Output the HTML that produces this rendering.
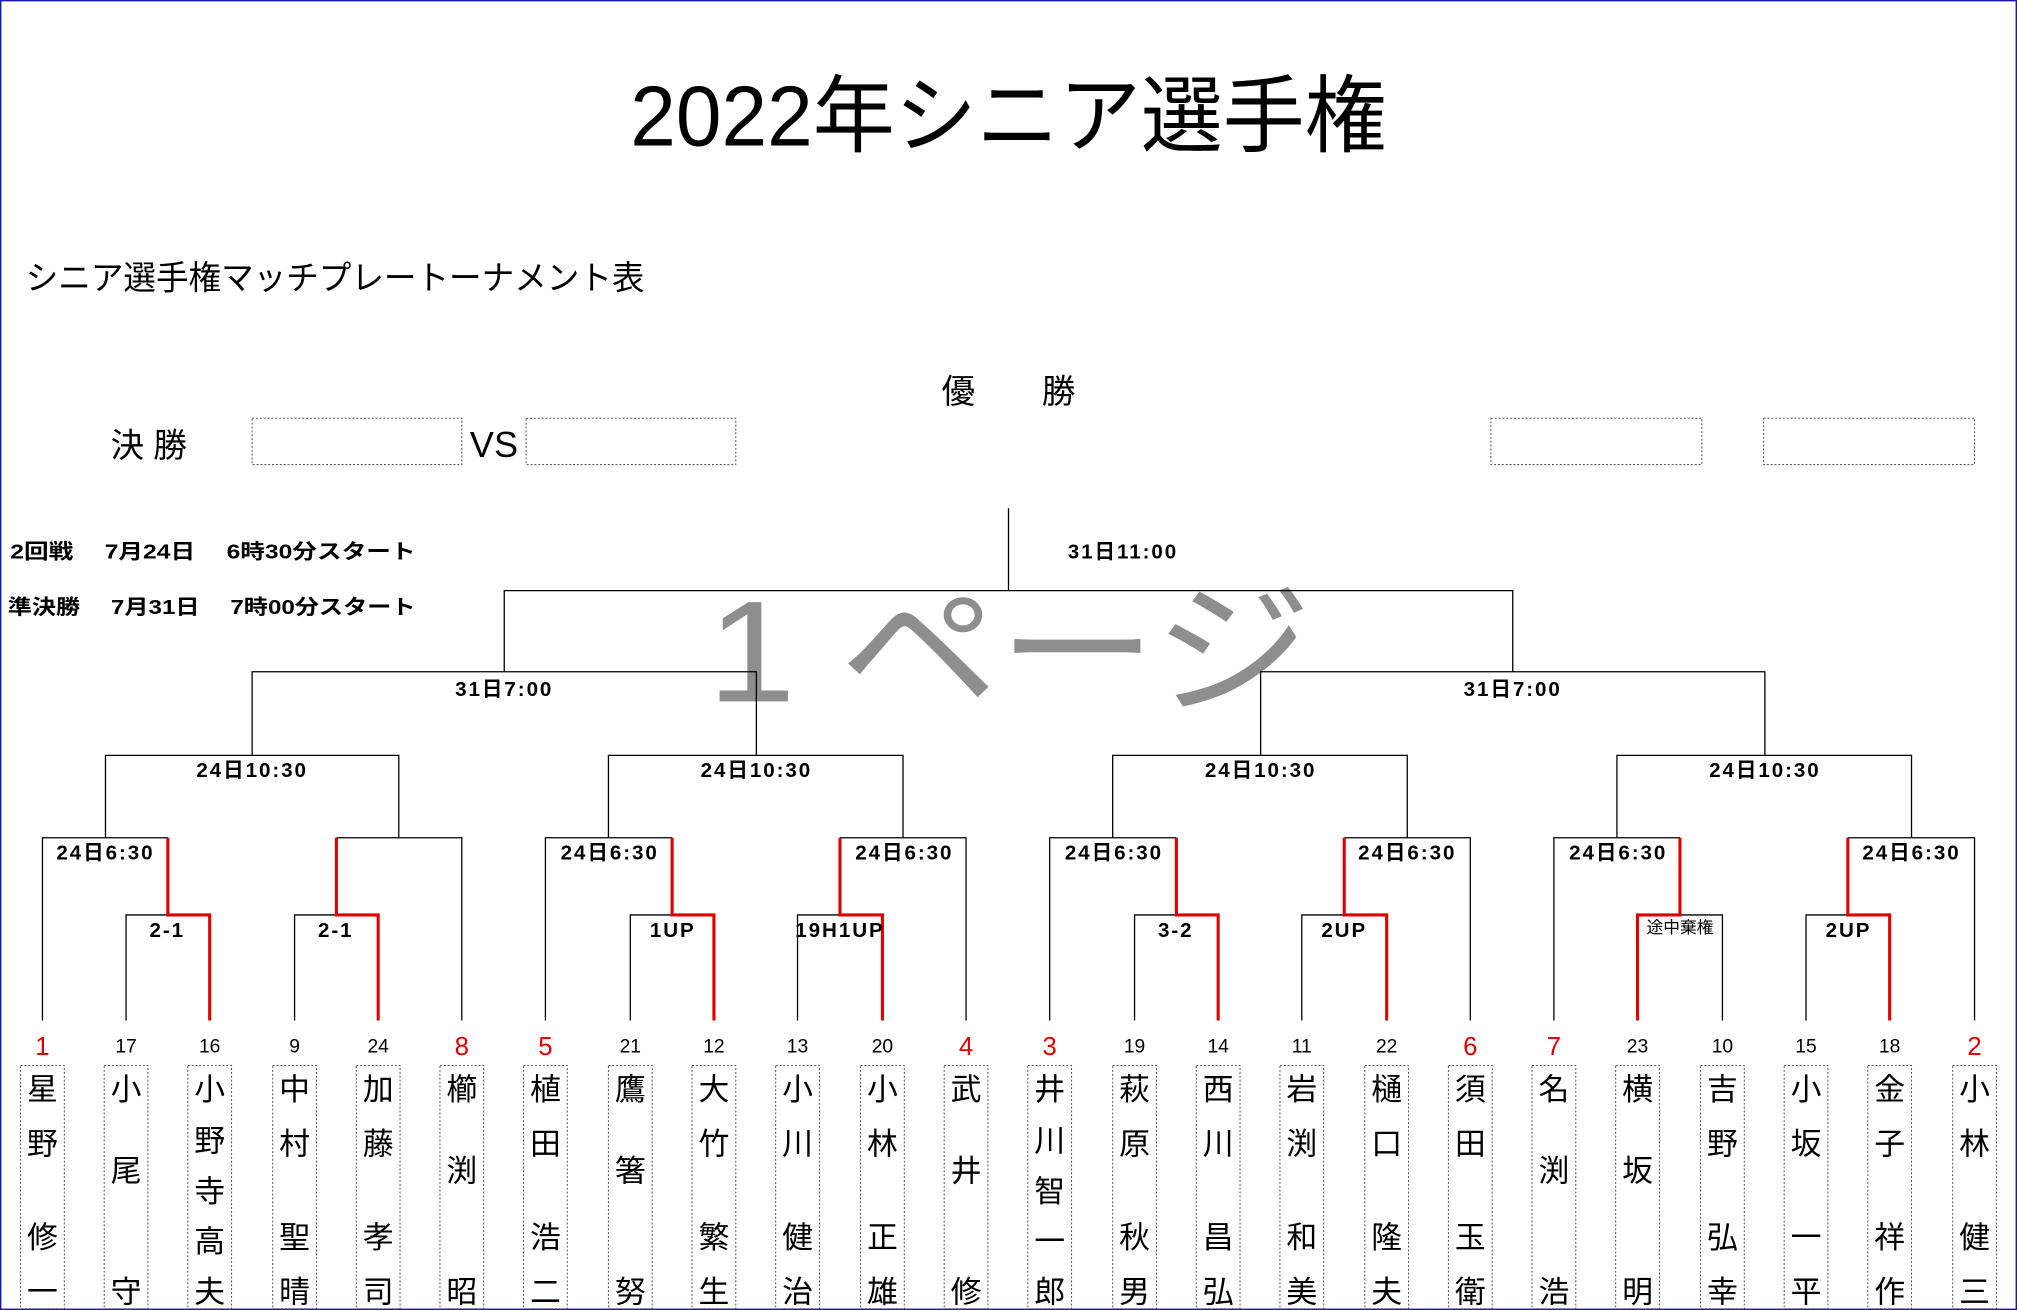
<!DOCTYPE html>
<html><head><meta charset="utf-8"><style>
html,body{margin:0;padding:0;background:#fff;}
svg{display:block;}
text{font-family:"Liberation Sans","Noto Sans CJK JP",sans-serif;}
.b{font-weight:bold;font-size:16px;text-anchor:middle;letter-spacing:1.5px;}
.n{font-size:15px;text-anchor:middle;}
.r{font-size:20px;text-anchor:middle;fill:#e00000;}
.c{font-size:24px;text-anchor:middle;}
.box{fill:none;stroke:#555;stroke-width:0.8;stroke-dasharray:1.5 1.5;}
</style></head><body>
<svg width="2017" height="1310" viewBox="0 0 1568 1018" preserveAspectRatio="none" xmlns="http://www.w3.org/2000/svg">
<rect x="0.5" y="0.5" width="1567" height="1017" fill="#fff" stroke="#1a1aa0" stroke-width="1.2"/>
<text x="490" y="113" font-size="66" textLength="588" lengthAdjust="spacingAndGlyphs">2022年シニア選手権</text>
<text x="20" y="225" font-size="26" textLength="481" lengthAdjust="spacingAndGlyphs">シニア選手権マッチプレートーナメント表</text>
<text x="784" y="313" font-size="26" text-anchor="middle">優　　勝</text>
<text x="86" y="355" font-size="26">決 勝</text>
<rect class="box" x="196" y="325" width="163" height="36"/>
<rect class="box" x="409" y="325" width="163" height="36"/>
<text x="384" y="355" font-size="28" text-anchor="middle">VS</text>
<rect class="box" x="1159" y="325" width="164" height="36"/>
<rect class="box" x="1371" y="325" width="164" height="36"/>
<text x="8" y="434" font-size="16" font-weight="bold" textLength="315" lengthAdjust="spacingAndGlyphs">2回戦　 7月24日　 6時30分スタート</text>
<text x="6" y="477" font-size="16" font-weight="bold" textLength="317" lengthAdjust="spacingAndGlyphs">準決勝　 7月31日　 7時00分スタート</text>
<text x="550" y="545" font-size="112" fill="#8e8e8e" textLength="470" lengthAdjust="spacingAndGlyphs">1 ページ</text>
<g fill="none" stroke="#000" stroke-width="1">
<path d="M33 793V651H130.5M98 793V711H130.5"/>
<path d="M229 793V711H261.5M261.5 651H359V793"/>
<path d="M424 793V651H522.5M490 793V711H522.5"/>
<path d="M620 793V711H653M653 651H751V793"/>
<path d="M816 793V651H914.5M882 793V711H914.5"/>
<path d="M1012 793V711H1045M1045 651H1143V793"/>
<path d="M1208 793V651H1306M1306 711H1339V793"/>
<path d="M1404 793V711H1436.5M1436.5 651H1535V793"/>
<path d="M82 651V587H310V651M473 651V587H702V651M865 651V587H1094V651M1257 651V587H1486V651"/>
<path d="M196 587V522H588V587M980 587V522H1372V587"/>
<path d="M392 522V459H1176V522M784 459V395"/>
</g>
<g fill="none" stroke="#e00000" stroke-width="2.4">
<path d="M130.5 651V711H163V793"/>
<path d="M261.5 651V711H294V793"/>
<path d="M522.5 651V711H555V793"/>
<path d="M653 651V711H686V793"/>
<path d="M914.5 651V711H947V793"/>
<path d="M1045 651V711H1078V793"/>
<path d="M1306 651V711H1273V793"/>
<path d="M1436.5 651V711H1469V793"/>
</g>
<text class="b" x="873" y="434">31日11:00</text>
<text class="b" x="392" y="541">31日7:00</text>
<text class="b" x="1176" y="541">31日7:00</text>
<text class="b" x="196" y="604">24日10:30</text>
<text class="b" x="588" y="604">24日10:30</text>
<text class="b" x="980" y="604">24日10:30</text>
<text class="b" x="1372" y="604">24日10:30</text>
<text class="b" x="82" y="668">24日6:30</text>
<text class="b" x="474" y="668">24日6:30</text>
<text class="b" x="703" y="668">24日6:30</text>
<text class="b" x="866" y="668">24日6:30</text>
<text class="b" x="1094" y="668">24日6:30</text>
<text class="b" x="1258" y="668">24日6:30</text>
<text class="b" x="1486" y="668">24日6:30</text>
<text class="b" x="130" y="728">2-1</text>
<text class="b" x="261" y="728">2-1</text>
<text class="b" x="523" y="728">1UP</text>
<text class="b" x="653" y="728">19H1UP</text>
<text class="b" x="914" y="728">3-2</text>
<text class="b" x="1045" y="728">2UP</text>
<text x="1306" y="725" font-size="13" text-anchor="middle">途中棄権</text>
<text class="b" x="1437" y="728">2UP</text>
<g>
<text class="r" x="33" y="820">1</text><text class="n" x="98" y="818">17</text><text class="n" x="163" y="818">16</text>
<text class="n" x="229" y="818">9</text><text class="n" x="294" y="818">24</text><text class="r" x="359" y="820">8</text>
<text class="r" x="424" y="820">5</text><text class="n" x="490" y="818">21</text><text class="n" x="555" y="818">12</text>
<text class="n" x="620" y="818">13</text><text class="n" x="686" y="818">20</text><text class="r" x="751" y="820">4</text>
<text class="r" x="816" y="820">3</text><text class="n" x="882" y="818">19</text><text class="n" x="947" y="818">14</text>
<text class="n" x="1012" y="818">11</text><text class="n" x="1078" y="818">22</text><text class="r" x="1143" y="820">6</text>
<text class="r" x="1208" y="820">7</text><text class="n" x="1273" y="818">23</text><text class="n" x="1339" y="818">10</text>
<text class="n" x="1404" y="818">15</text><text class="n" x="1469" y="818">18</text><text class="r" x="1535" y="820">2</text>
</g>
<g>
<rect class="box" x="16" y="828" width="34" height="189"/><rect class="box" x="81" y="828" width="34" height="189"/><rect class="box" x="146" y="828" width="34" height="189"/>
<rect class="box" x="212" y="828" width="34" height="189"/><rect class="box" x="277" y="828" width="34" height="189"/><rect class="box" x="342" y="828" width="34" height="189"/>
<rect class="box" x="407" y="828" width="34" height="189"/><rect class="box" x="473" y="828" width="34" height="189"/><rect class="box" x="538" y="828" width="34" height="189"/>
<rect class="box" x="603" y="828" width="34" height="189"/><rect class="box" x="669" y="828" width="34" height="189"/><rect class="box" x="734" y="828" width="34" height="189"/>
<rect class="box" x="799" y="828" width="34" height="189"/><rect class="box" x="865" y="828" width="34" height="189"/><rect class="box" x="930" y="828" width="34" height="189"/>
<rect class="box" x="995" y="828" width="34" height="189"/><rect class="box" x="1061" y="828" width="34" height="189"/><rect class="box" x="1126" y="828" width="34" height="189"/>
<rect class="box" x="1191" y="828" width="34" height="189"/><rect class="box" x="1256" y="828" width="34" height="189"/><rect class="box" x="1322" y="828" width="34" height="189"/>
<rect class="box" x="1387" y="828" width="34" height="189"/><rect class="box" x="1452" y="828" width="34" height="189"/><rect class="box" x="1518" y="828" width="34" height="189"/>
</g>
<g class="names">
<text class="c" x="33" y="855">星</text><text class="c" x="33" y="897">野</text><text class="c" x="33" y="970">修</text><text class="c" x="33" y="1012">一</text>
<text class="c" x="98" y="855">小</text><text class="c" x="98" y="918">尾</text><text class="c" x="98" y="1012">守</text>
<text class="c" x="163" y="855">小</text><text class="c" x="163" y="895">野</text><text class="c" x="163" y="934">寺</text><text class="c" x="163" y="973">高</text><text class="c" x="163" y="1012">夫</text>
<text class="c" x="229" y="855">中</text><text class="c" x="229" y="897">村</text><text class="c" x="229" y="970">聖</text><text class="c" x="229" y="1012">晴</text>
<text class="c" x="294" y="855">加</text><text class="c" x="294" y="897">藤</text><text class="c" x="294" y="970">孝</text><text class="c" x="294" y="1012">司</text>
<text class="c" x="359" y="855">櫛</text><text class="c" x="359" y="918">渕</text><text class="c" x="359" y="1012">昭</text>
<text class="c" x="424" y="855">植</text><text class="c" x="424" y="897">田</text><text class="c" x="424" y="970">浩</text><text class="c" x="424" y="1012">二</text>
<text class="c" x="490" y="855">鷹</text><text class="c" x="490" y="918">箸</text><text class="c" x="490" y="1012">努</text>
<text class="c" x="555" y="855">大</text><text class="c" x="555" y="897">竹</text><text class="c" x="555" y="970">繁</text><text class="c" x="555" y="1012">生</text>
<text class="c" x="620" y="855">小</text><text class="c" x="620" y="897">川</text><text class="c" x="620" y="970">健</text><text class="c" x="620" y="1012">治</text>
<text class="c" x="686" y="855">小</text><text class="c" x="686" y="897">林</text><text class="c" x="686" y="970">正</text><text class="c" x="686" y="1012">雄</text>
<text class="c" x="751" y="855">武</text><text class="c" x="751" y="918">井</text><text class="c" x="751" y="1012">修</text>
<text class="c" x="816" y="855">井</text><text class="c" x="816" y="895">川</text><text class="c" x="816" y="934">智</text><text class="c" x="816" y="973">一</text><text class="c" x="816" y="1012">郎</text>
<text class="c" x="882" y="855">萩</text><text class="c" x="882" y="897">原</text><text class="c" x="882" y="970">秋</text><text class="c" x="882" y="1012">男</text>
<text class="c" x="947" y="855">西</text><text class="c" x="947" y="897">川</text><text class="c" x="947" y="970">昌</text><text class="c" x="947" y="1012">弘</text>
<text class="c" x="1012" y="855">岩</text><text class="c" x="1012" y="897">渕</text><text class="c" x="1012" y="970">和</text><text class="c" x="1012" y="1012">美</text>
<text class="c" x="1078" y="855">樋</text><text class="c" x="1078" y="897">口</text><text class="c" x="1078" y="970">隆</text><text class="c" x="1078" y="1012">夫</text>
<text class="c" x="1143" y="855">須</text><text class="c" x="1143" y="897">田</text><text class="c" x="1143" y="970">玉</text><text class="c" x="1143" y="1012">衛</text>
<text class="c" x="1208" y="855">名</text><text class="c" x="1208" y="918">渕</text><text class="c" x="1208" y="1012">浩</text>
<text class="c" x="1273" y="855">横</text><text class="c" x="1273" y="918">坂</text><text class="c" x="1273" y="1012">明</text>
<text class="c" x="1339" y="855">吉</text><text class="c" x="1339" y="897">野</text><text class="c" x="1339" y="970">弘</text><text class="c" x="1339" y="1012">幸</text>
<text class="c" x="1404" y="855">小</text><text class="c" x="1404" y="897">坂</text><text class="c" x="1404" y="970">一</text><text class="c" x="1404" y="1012">平</text>
<text class="c" x="1469" y="855">金</text><text class="c" x="1469" y="897">子</text><text class="c" x="1469" y="970">祥</text><text class="c" x="1469" y="1012">作</text>
<text class="c" x="1535" y="855">小</text><text class="c" x="1535" y="897">林</text><text class="c" x="1535" y="970">健</text><text class="c" x="1535" y="1012">三</text>
</g>
</svg>
</body></html>
